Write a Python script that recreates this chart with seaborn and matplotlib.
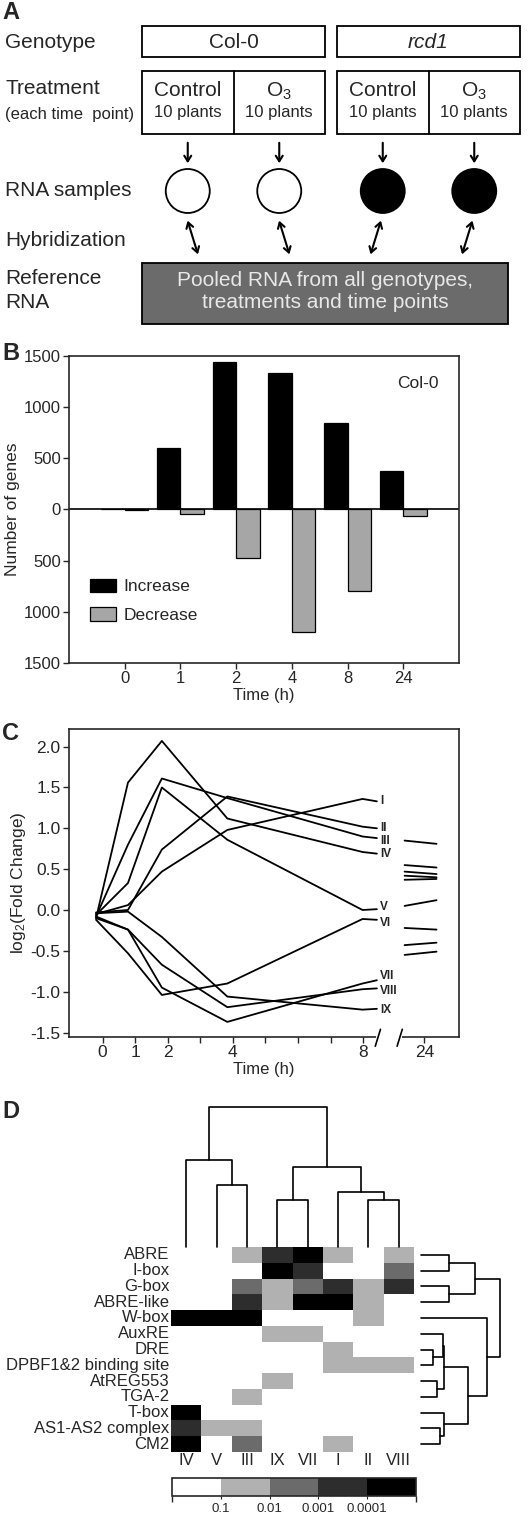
import numpy as np
import pandas as pd
import matplotlib
matplotlib.use("Agg")
import matplotlib.pyplot as plt
import matplotlib.transforms as mtransforms
import seaborn as sns
from matplotlib.patches import Rectangle, Circle, FancyArrowPatch, Patch
from matplotlib.colors import ListedColormap, BoundaryNorm
from matplotlib.cm import ScalarMappable
from matplotlib.ticker import FuncFormatter

# ---------------- data ----------------
## panel B: number of regulated genes (Col-0)
times_b = ['0', '1', '2', '4', '8', '24']
increase = [0, 605, 1445, 1330, 850, 380]
decrease = [5, 40, 472, 1200, 800, 68]

## panel C: cluster mean profiles
clusters = ['I', 'II', 'III', 'IV', 'V', 'VI', 'VII', 'VIII', 'IX']
time_pos = [-0.2, 0.78, 1.82, 3.83, 7.98]
prof_I = [-0.05, 0.06, 0.47, 0.98, 1.36]
prof_II = [-0.03, 0.0, 0.74, 1.39, 1.02]
prof_III = [-0.08, 0.80, 1.61, 1.37, 0.90]
prof_IV = [-0.10, 1.56, 2.07, 1.12, 0.71]
prof_V = [-0.06, 0.33, 1.50, 0.86, 0.00]
prof_VI = [-0.12, -0.53, -1.04, -0.90, -0.11]
prof_VII = [-0.08, -0.24, -0.95, -1.37, -0.90]
prof_VIII = [-0.10, -0.24, -0.67, -1.19, -0.97]
prof_IX = [-0.04, -0.02, -0.33, -1.06, -1.22]
profiles = [prof_I, prof_II, prof_III, prof_IV, prof_V, prof_VI, prof_VII, prof_VIII, prof_IX]
label_vals = [1.33, 1.0, 0.88, 0.69, 0.01, -0.12, -0.86, -0.96, -1.21]
label_text_y = [1.33, 1.0, 0.85, 0.69, 0.04, -0.16, -0.81, -0.99, -1.22]
seg24_start = [0.85, 0.55, 0.47, 0.42, 0.37, 0.05, -0.22, -0.43, -0.55]
seg24_end = [0.81, 0.52, 0.44, 0.40, 0.38, 0.12, -0.24, -0.40, -0.51]
c_ticks = [0, 1, 2, 3, 4, 5, 6, 7, 8, 9.88]
c_ticklabels = ['0', '1', '2', '', '4', '', '', '', '8', '24']

## panel D: promoter motif enrichment (0 = n.s. ... 4 = p<0.0001)
cluster_order = ['IV', 'V', 'III', 'IX', 'VII', 'I', 'II', 'VIII']
motifs = ['ABRE', 'I-box', 'G-box', 'ABRE-like', 'W-box', 'AuxRE', 'DRE',
          'DPBF1&2 binding site', 'AtREG553', 'TGA-2', 'T-box', 'AS1-AS2 complex', 'CM2']
motif_levels = [
    [0, 0, 1, 3, 4, 1, 0, 1],
    [0, 0, 0, 4, 3, 0, 0, 2],
    [0, 0, 2, 1, 2, 3, 1, 3],
    [0, 0, 3, 1, 4, 4, 1, 0],
    [4, 4, 4, 0, 0, 0, 1, 0],
    [0, 0, 0, 1, 1, 0, 0, 0],
    [0, 0, 0, 0, 0, 1, 0, 0],
    [0, 0, 0, 0, 0, 1, 1, 1],
    [0, 0, 0, 1, 0, 0, 0, 0],
    [0, 0, 1, 0, 0, 0, 0, 0],
    [4, 0, 0, 0, 0, 0, 0, 0],
    [3, 1, 1, 0, 0, 0, 0, 0],
    [4, 0, 2, 0, 0, 1, 0, 0],
]
pval_labels = ['0.1', '0.01', '0.001', '0.0001']
# (height, left, right)
col_tree = (139.7, (86.7, 'IV', (61.7, 'V', 'III')),
            (80.0, (46.7, 'IX', 'VII'), (54.7, 'I', (46.7, 'II', 'VIII'))))
row_tree = (79.0, (54.0, (28.3, 'ABRE', 'I-box'), (28.3, 'G-box', 'ABRE-like')),
            (65.6, 'W-box',
             (46.6, (22.6, (21.6, 'AuxRE', (11.6, 'DRE', 'DPBF1&2 binding site')),
                     (16.0, 'AtREG553', 'TGA-2')),
              (22.6, 'T-box', (19.0, 'AS1-AS2 complex', 'CM2')))))

# ---------------- style ----------------
sns.set_theme(style="ticks")
plt.rcParams['font.family'] = ['Liberation Sans', 'DejaVu Sans']
plt.rcParams['mathtext.fontset'] = 'custom'
plt.rcParams['mathtext.rm'] = 'Liberation Sans'
plt.rcParams['mathtext.it'] = 'Liberation Sans:italic'
plt.rcParams['mathtext.bf'] = 'Liberation Sans:bold'
plt.rcParams['axes.unicode_minus'] = False
plt.rcParams['axes.linewidth'] = 1.0
plt.rcParams['xtick.major.width'] = 1.0
plt.rcParams['ytick.major.width'] = 1.0

W, H = 531, 1514
fig = plt.figure(figsize=(W / 100, H / 100), dpi=100)


def px_axes(x0, y0, x1, y1):
    return fig.add_axes([x0 / W, 1 - y1 / H, (x1 - x0) / W, (y1 - y0) / H])


def panel_letter(x, y, s):
    fig.text(x / W, 1 - y / H, s, fontsize=17, fontweight='bold', va='top', ha='left')


def draw_tree(ax, node, leaf_pos, horizontal):
    if isinstance(node, str):
        return leaf_pos[node], 0.0
    h, left, right = node
    pa, ha = draw_tree(ax, left, leaf_pos, horizontal)
    pb, hb = draw_tree(ax, right, leaf_pos, horizontal)
    pos = [pa, pa, pb, pb]
    hts = [ha, h, h, hb]
    if horizontal:
        ax.plot(hts, pos, color='black', lw=1.2, clip_on=False)
    else:
        ax.plot(pos, hts, color='black', lw=1.2, clip_on=False)
    return (pa + pb) / 2, h


# ---------------- A: experimental design ----------------
axA = px_axes(0, 0, W, 330)
axA.set_xlim(0, W)
axA.set_ylim(330, 0)
axA.axis('off')
big = 15
small = 12

row_labels = [('Genotype', 42), ('Treatment', 88), ('RNA samples', 190),
              ('Hybridization', 240), ('Reference', 279), ('RNA', 303)]
for lab, yy in row_labels:
    axA.text(5, yy, lab, fontsize=big, va='center', ha='left')
axA.text(5, 115, '(each time  point)', fontsize=small, va='center', ha='left')

geno = [('Col-0', 142, 325, 'normal', 'white'), ('rcd1', 337, 520, 'italic', 'black')]
for name, x0, x1, sty, fill in geno:
    axA.add_patch(Rectangle((x0, 26), x1 - x0, 31, fc='white', ec='black', lw=1.3))
    axA.text((x0 + x1) / 2, 42, name, fontsize=big, style=sty, ha='center', va='center')
    xm = (x0 + x1) / 2
    axA.add_patch(Rectangle((x0, 71), x1 - x0, 63, fc='white', ec='black', lw=1.3))
    axA.plot([xm, xm], [71, 134], color='black', lw=1.3)
    for k, tr in enumerate(['Control', 'O$_\\mathregular{3}$']):
        cx = (x0 + xm) / 2 if k == 0 else (xm + x1) / 2
        axA.text(cx, 91, tr, fontsize=big, ha='center', va='center')
        axA.text(cx, 113, '10 plants', fontsize=small, ha='center', va='center')
        axA.add_patch(FancyArrowPatch((cx, 140), (cx, 166), arrowstyle='->,head_length=4,head_width=2.5',
                                      color='black', lw=1.5, mutation_scale=1))
        axA.add_patch(Circle((cx, 191), 22, fc=fill, ec='black', lw=1.3))
        lean = 12 if name == 'Col-0' else -12
        axA.add_patch(FancyArrowPatch((cx - 1, 218), (cx - 1 + lean, 257),
                                      arrowstyle='<->,head_length=4,head_width=2.5',
                                      color='black', lw=1.5, mutation_scale=1))

axA.add_patch(Rectangle((142, 263), 366, 61, fc='#6b6b6b', ec='black', lw=1.3))
axA.text(325, 280, 'Pooled RNA from all genotypes,', fontsize=big, color='#e8e8e8', ha='center', va='center')
axA.text(325, 303, 'treatments and time points', fontsize=big, color='#e8e8e8', ha='center', va='center')
panel_letter(2, 1, 'A')

# ---------------- B: number of genes ----------------
axB = px_axes(69, 356, 459, 663)
df_b = pd.DataFrame({'time': times_b * 2,
                     'direction': ['Increase'] * len(times_b) + ['Decrease'] * len(times_b),
                     'genes': increase + [-v for v in decrease]})
pal_b = {'Increase': 'black', 'Decrease': '#a6a6a6'}
sns.barplot(data=df_b, x='time', y='genes', hue='direction', order=times_b,
            hue_order=['Increase', 'Decrease'], palette=pal_b, errorbar=None,
            width=0.84, edgecolor='black', linewidth=0.9, legend=False, ax=axB)
axB.axhline(0, color='black', lw=1.2)
axB.set_xlim(-1, 6)
axB.set_ylim(-1500, 1500)
axB.set_yticks([-1500, -1000, -500, 0, 500, 1000, 1500])
axB.yaxis.set_major_formatter(FuncFormatter(lambda v, p: f'{abs(v):.0f}'))
axB.tick_params(labelsize=12, length=4, direction='out', pad=2)
axB.set_xlabel('Time (h)', fontsize=12, labelpad=1)
axB.set_ylabel('Number of genes', fontsize=12.5, labelpad=3)
for sp in axB.spines.values():
    sp.set_visible(True)
    sp.set_linewidth(1.2)
axB.text(0.895, 0.91, 'Col-0', transform=axB.transAxes, fontsize=12.5, ha='center', va='center')
handles = [Patch(fc=pal_b[d], ec='black', lw=0.9, label=d) for d in ['Increase', 'Decrease']]
axB.legend(handles=handles, loc='upper left', bbox_to_anchor=(0.055, 0.275), frameon=False,
           fontsize=12.5, handlelength=1.45, handleheight=0.8, handletextpad=0.45,
           labelspacing=0.75, borderpad=0, borderaxespad=0)
panel_letter(2, 342, 'B')

# ---------------- C: cluster profiles ----------------
axC = px_axes(69, 729, 459, 1037)
label_end = 8.42
rows = []
for name, prof, lab in zip(clusters, profiles, label_vals):
    for xx, vv in zip(time_pos + [label_end], prof + [lab]):
        rows.append({'cluster': name, 'hour': xx, 'log2fc': vv})
df_c = pd.DataFrame(rows)
sns.lineplot(data=df_c, x='hour', y='log2fc', units='cluster', estimator=None, sort=False,
             color='black', lw=1.3, ax=axC)
for name, ty in zip(clusters, label_text_y):
    axC.text(label_end + 0.1, ty, name, fontsize=8.5, fontweight='bold', ha='left', va='center')
for s, e in zip(seg24_start, seg24_end):
    axC.plot([9.27, 10.25], [s, e], color='black', lw=1.3)
axC.set_xlim(-1.03, 10.94)
axC.set_ylim(-1.555, 2.216)
axC.set_xticks(c_ticks)
axC.set_xticklabels(c_ticklabels)
axC.set_yticks([-1.5, -1.0, -0.5, 0.0, 0.5, 1.0, 1.5, 2.0])
axC.yaxis.set_major_formatter(FuncFormatter(lambda v, p: f'{v:.1f}'))
axC.tick_params(labelsize=12.5, length=4, direction='out', pad=2)
axC.set_xlabel('Time (h)', fontsize=12, labelpad=1)
axC.set_ylabel('log$_\\mathregular{2}$(Fold Change)', fontsize=12.5, labelpad=2)
for sp in axC.spines.values():
    sp.set_visible(True)
    sp.set_linewidth(1.2)
# axis break on the time axis
trans = mtransforms.blended_transform_factory(axC.transData, axC.transAxes)
axC.plot([8.45, 9.12], [0, 0], transform=trans, color='white', lw=3, clip_on=False, zorder=5)
for bx in [8.45, 9.12]:
    axC.plot([bx - 0.08, bx + 0.08], [-0.03, 0.025], transform=trans, color='black',
             lw=1.2, clip_on=False, zorder=6)
panel_letter(2, 722, 'C')

# ---------------- D: motif heatmap ----------------
grays = ListedColormap(['white', '#b1b1b1', '#6b6b6b', '#2d2d2d', 'black'])
axH = px_axes(171, 1247, 414, 1452)
df_d = pd.DataFrame(motif_levels, index=motifs, columns=cluster_order)
sns.heatmap(df_d, cmap=grays, vmin=-0.5, vmax=4.5, cbar=False, ax=axH,
            xticklabels=True, yticklabels=True)
axH.tick_params(length=0, labelsize=12, pad=1)
axH.tick_params(axis='y', rotation=0)
axH.tick_params(axis='x', rotation=0)
axH.set_xlabel('')
axH.set_ylabel('')

axCD = px_axes(171, 1106, 414, 1247)
draw_tree(axCD, col_tree, {c: i + 0.5 for i, c in enumerate(cluster_order)}, horizontal=False)
axCD.set_xlim(0, len(cluster_order))
axCD.set_ylim(0, 141)
axCD.axis('off')

axRD = px_axes(421, 1247, 503, 1452)
draw_tree(axRD, row_tree, {m: i + 0.5 for i, m in enumerate(motifs)}, horizontal=True)
axRD.set_ylim(len(motifs), 0)
axRD.set_xlim(0, 82)
axRD.axis('off')

cax = px_axes(172, 1478, 416, 1496)
sm = ScalarMappable(norm=BoundaryNorm(np.arange(6), 5), cmap=grays)
cb = fig.colorbar(sm, cax=cax, orientation='horizontal')
cb.set_ticks([1, 2, 3, 4])
cb.set_ticklabels(pval_labels)
cax.tick_params(length=2, labelsize=9.5, pad=3, width=0.8)
cb.outline.set_linewidth(1.2)
panel_letter(2, 1100, 'D')

fig.savefig('out.png', dpi=100)
